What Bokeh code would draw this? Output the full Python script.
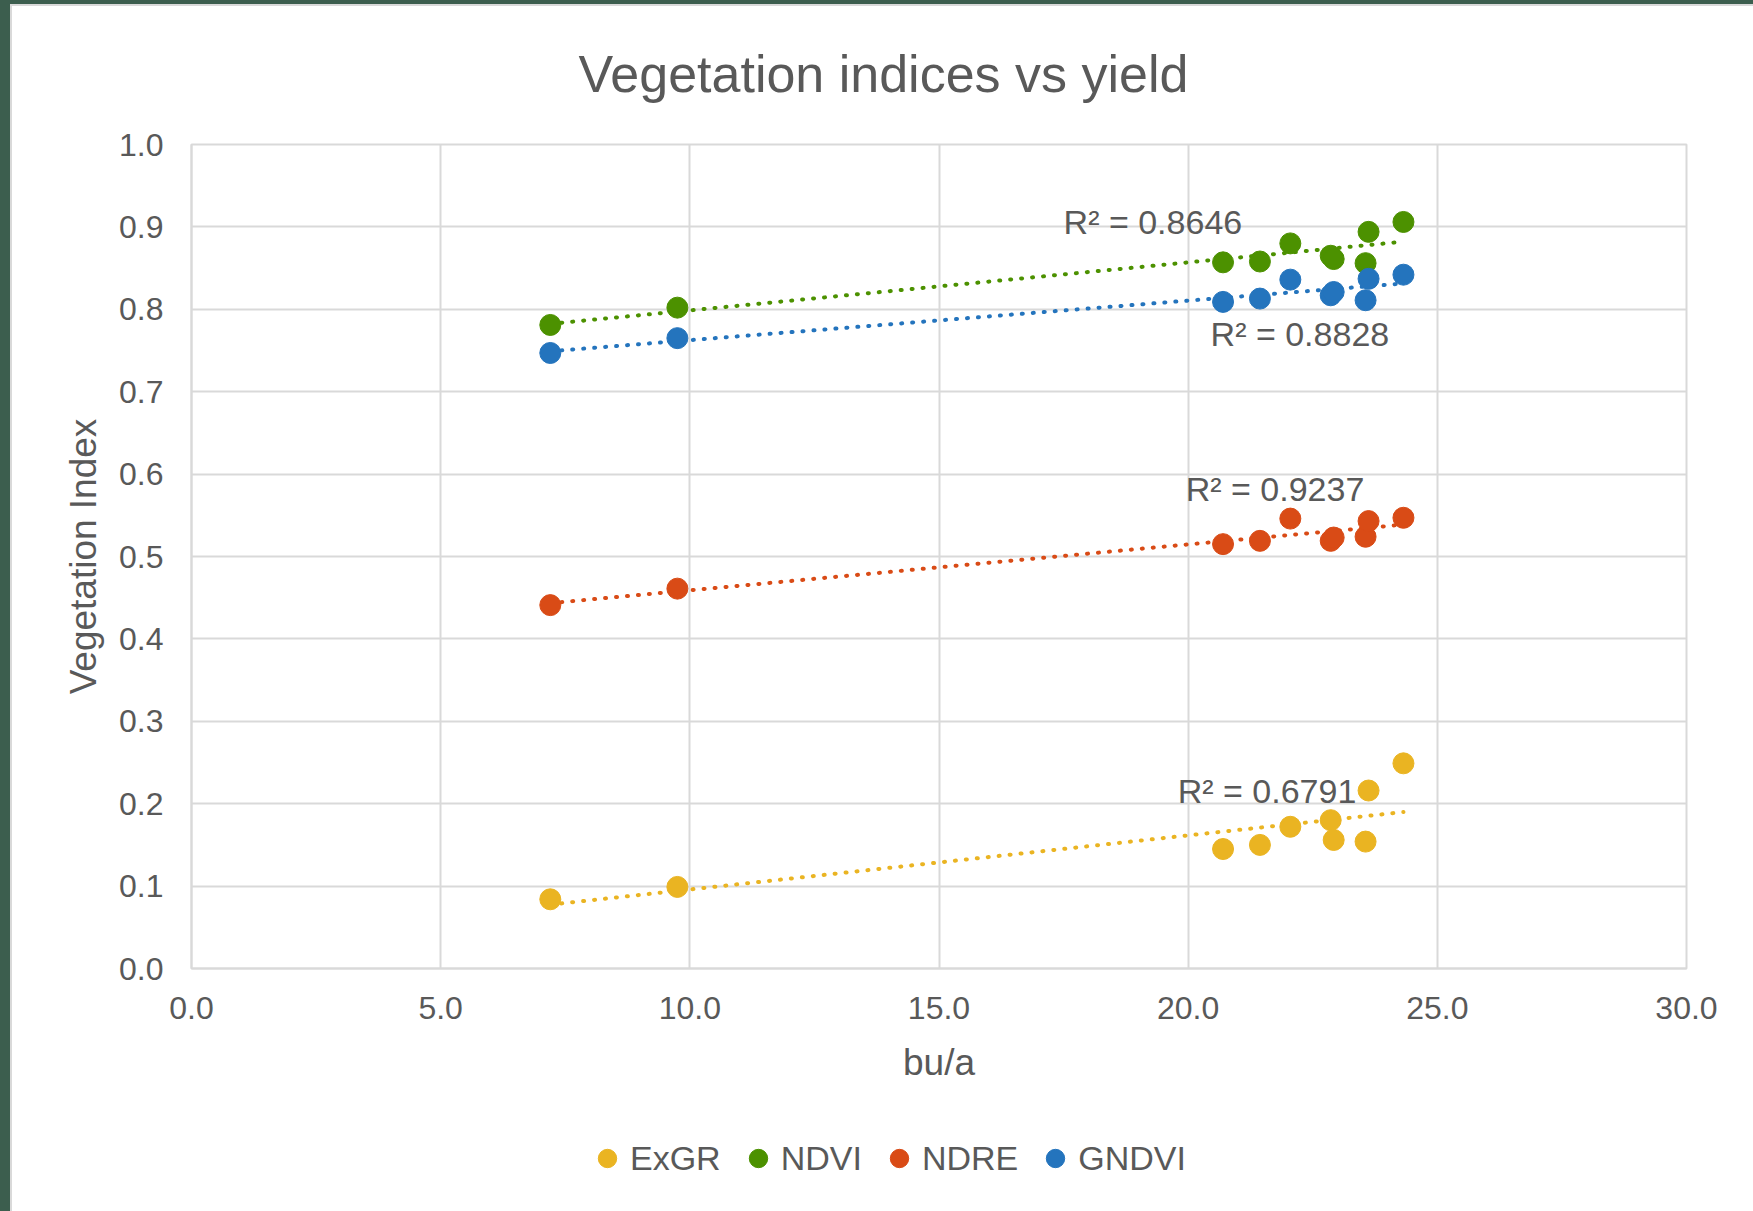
import numpy as np
from bokeh.plotting import figure
from bokeh.layouts import column
from bokeh.models import (Range1d, FixedTicker, NumeralTickFormatter, Legend, LegendItem,
                          ColumnDataSource)
from bokeh.core.properties import value
from bokeh.embed import file_html
from bokeh.resources import INLINE

# ---- data ----
yield_bu = [7.2, 9.75, 20.7, 21.44, 22.05, 22.86, 22.92, 23.56, 23.62, 24.32]
exgr  = [0.084, 0.099, 0.145, 0.150, 0.172, 0.180, 0.156, 0.154, 0.216, 0.249]
ndvi  = [0.781, 0.802, 0.857, 0.858, 0.880, 0.865, 0.861, 0.856, 0.894, 0.906]
ndre  = [0.441, 0.461, 0.515, 0.519, 0.546, 0.519, 0.523, 0.524, 0.543, 0.547]
gndvi = [0.747, 0.765, 0.809, 0.813, 0.836, 0.817, 0.821, 0.811, 0.837, 0.842]

series_names = ["ExGR", "NDVI", "NDRE", "GNDVI"]
series_values = [exgr, ndvi, ndre, gndvi]
series_colors = ["#EAB422", "#4C9100", "#D94B16", "#2474BD"]

r2_texts = ["R² = 0.6791", "R² = 0.8646", "R² = 0.9237", "R² = 0.8828"]
r2_x = [19.79, 17.50, 19.95, 20.45]
r2_y = [0.216, 0.906, 0.582, 0.770]

x_ticks = [0, 5, 10, 15, 20, 25, 30]
y_ticks = [0.0, 0.1, 0.2, 0.3, 0.4, 0.5, 0.6, 0.7, 0.8, 0.9, 1.0]

TEXT = "#595959"
GRID = "#D9D9D9"
EDGE = "#3C5E4E"
FONT = "Liberation Sans"

W = 1753
H_MAIN = 1110
H_LEG = 1211 - H_MAIN

p = figure(width=W, height=H_MAIN, output_backend="svg", toolbar_location=None,
           x_range=Range1d(0, 30), y_range=Range1d(0, 1),
           min_border_left=191, min_border_right=67, min_border_top=144,
           min_border_bottom=H_MAIN - 968,
           title="Vegetation indices vs yield")

# dark frame edge of the original screenshot + light chart border
p.border_fill_color = None
p.styles = {"background": (
    f"linear-gradient({EDGE},{EDGE}) 0 0 / 10px 100% no-repeat, "
    f"linear-gradient({EDGE},{EDGE}) 0 0 / 100% 4px no-repeat, "
    f"linear-gradient({GRID},{GRID}) 10px 4px / 2px 100% no-repeat, "
    f"linear-gradient({GRID},{GRID}) 10px 4px / 100% 2px no-repeat, white")}

p.title.text_font = FONT
p.title.text_font_size = "52px"
p.title.text_font_style = "normal"
p.title.text_color = TEXT
p.title.align = "left"
p.title.offset = 387
p.title.standoff = 84

p.outline_line_color = GRID
p.outline_line_width = 2
p.background_fill_color = "white"

for ax in (p.xaxis[0], p.yaxis[0]):
    ax.axis_line_color = GRID
    ax.axis_line_width = 2
    ax.major_tick_line_color = None
    ax.minor_tick_line_color = None
    ax.major_tick_in = 0
    ax.major_tick_out = 0
    ax.major_label_text_font = FONT
    ax.major_label_text_font_size = "32px"
    ax.major_label_text_color = TEXT
    ax.axis_label_text_font = FONT
    ax.axis_label_text_font_size = "37px"
    ax.axis_label_text_font_style = "normal"
    ax.axis_label_text_color = TEXT
    ax.formatter = NumeralTickFormatter(format="0.0")

p.xaxis[0].ticker = FixedTicker(ticks=x_ticks)
p.yaxis[0].ticker = FixedTicker(ticks=y_ticks)
p.xaxis[0].axis_label = "bu/a"
p.yaxis[0].axis_label = "Vegetation Index"
p.xaxis[0].major_label_standoff = 28
p.yaxis[0].major_label_standoff = 28
p.xaxis[0].axis_label_standoff = 20
p.yaxis[0].axis_label_standoff = 12

p.xgrid.ticker = FixedTicker(ticks=x_ticks)
p.ygrid.ticker = FixedTicker(ticks=y_ticks)
p.grid.grid_line_color = GRID
p.grid.grid_line_width = 2

xs = np.array(yield_bu)
# linear trendlines (least-squares fit of each series)
for vals, col in zip(series_values, series_colors):
    m, b = np.polyfit(xs, np.array(vals), 1)
    xx = [xs.min(), xs.max()]
    yy = [m * xx[0] + b, m * xx[1] + b]
    p.line(xx, yy, line_color=col, line_width=4, line_dash="1 10", line_cap="round")

for name, vals, col in zip(series_names, series_values, series_colors):
    src = ColumnDataSource(dict(x=yield_bu, y=vals))
    p.scatter("x", "y", source=src, size=21, marker="circle",
              fill_color=col, line_color=col)

p.text(x=r2_x, y=r2_y, text=r2_texts, text_font=value(FONT), text_font_size="34px",
       text_color=TEXT, text_align="left", text_baseline="middle")

# ---- legend strip below the chart ----
p2 = figure(width=W, height=H_LEG, output_backend="svg", toolbar_location=None,
            x_range=Range1d(0, 1), y_range=Range1d(0, 1),
            x_axis_type=None, y_axis_type=None, min_border=0)
p2.outline_line_color = None
p2.border_fill_color = None
p2.background_fill_color = None
p2.styles = {"background": (
    f"linear-gradient({EDGE},{EDGE}) 0 0 / 10px 100% no-repeat, "
    f"linear-gradient({GRID},{GRID}) 10px 0 / 2px 100% no-repeat, white")}

items = []
for name, col in zip(series_names, series_colors):
    # legend-key renderers: a single point kept outside the visible range
    r = p2.scatter(x=[-5], y=[-5], marker="circle", size=18, fill_color=col, line_color=col)
    items.append(LegendItem(label=name, renderers=[r]))

legend = Legend(items=items, orientation="horizontal", location=(393, 30),
                glyph_width=46, glyph_height=46, label_standoff=0, spacing=14,
                label_text_font=FONT, label_text_font_size="34px", label_text_color=TEXT,
                border_line_color=None, background_fill_alpha=0, margin=0, padding=10)
p2.add_layout(legend, "center")

layout = column(p, p2, spacing=0)
open("out.html", "w").write(file_html(layout, INLINE))
